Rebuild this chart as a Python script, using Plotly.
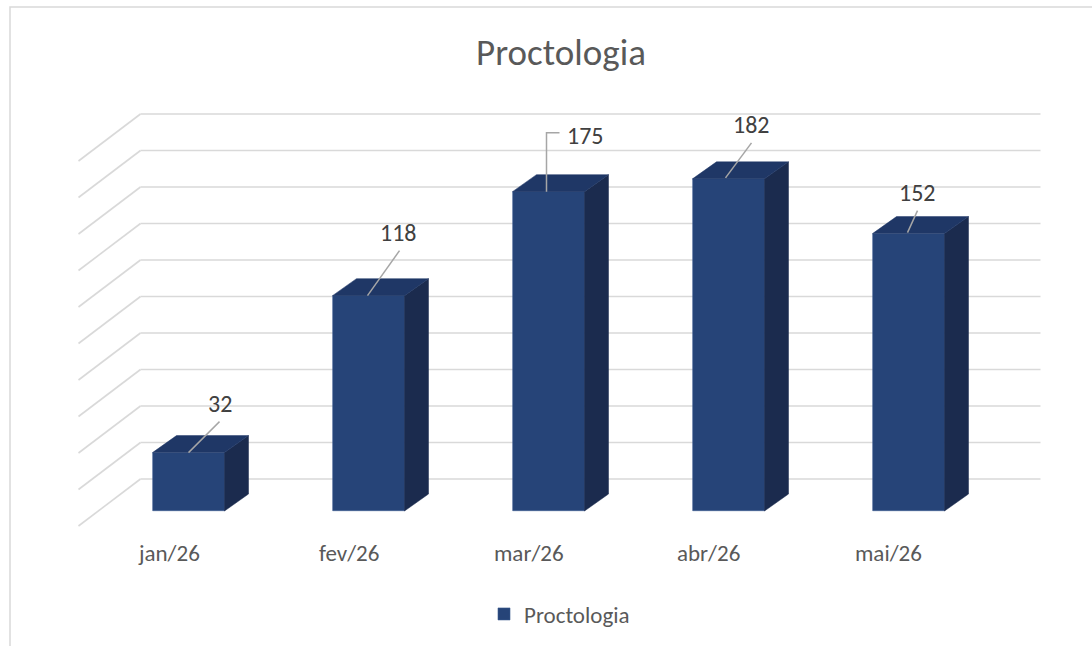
import plotly.graph_objects as go

# ---------------- data ----------------
categories = ["jan/26", "fev/26", "mar/26", "abr/26", "mai/26"]
values = [32, 118, 175, 182, 152]
series_name = "Proctologia"
chart_title = "Proctologia"
grid_ticks = [0, 20, 40, 60, 80, 100, 120, 140, 160, 180, 200]

# ---------------- style / projection ----------------
W, H = 1092, 646
X0_PX = 188.5      # pixel of first category centre
X_STEP = 180.0     # pixels per category
Y0_PX = 511.0      # pixel of value 0 on the bar front plane
Y_SCALE = 1.825    # pixels per value unit

FRONT = "#264478"
TOP = "#1f3766"
SIDE = "#1b2b4e"
GRID = "#d9d9d9"
TEXT = "#595959"
FONT = "Calibri, Carlito, Lato, sans-serif"

BAR_W = 0.4
BAR_DEPTH_PX = (24, 17)     # right, up
WALL_PX = (42, 32)          # back wall offset from bar front plane
FLOOR_FRONT_PX = (-20, -15) # front floor edge offset
# data-label offsets in px (leader start -> bend points -> label centre)
LEADERS_PX = [
    [(0, 0), (31, 31)],
    [(-1, 0), (31, 45)],
    [(-2, 0), (-2, 59), (11, 59)],
    [(-3, 1), (23, 36)],
    [(-1, 1), (9, 23)],
]
LABEL_PX = [(31, 49), (30, 63), (37, 56), (23, 54), (9, 41)]


def dxu(p):
    return p / X_STEP


def dyu(p):
    return p / Y_SCALE


xr = [(0 - X0_PX) / X_STEP, (W - X0_PX) / X_STEP]
yr = [(Y0_PX - H) / Y_SCALE, Y0_PX / Y_SCALE]

n = len(categories)
xs = list(range(n))
wall_left, wall_right = -0.5, n - 0.5

fig = go.Figure()

# side and top faces of the pseudo-3D bars
ddx, ddy = dxu(BAR_DEPTH_PX[0]), dyu(BAR_DEPTH_PX[1])
for x, v in zip(xs, values):
    x0, x1 = x - BAR_W / 2, x + BAR_W / 2
    fig.add_trace(go.Scatter(
        x=[x1, x1, x1 + ddx, x1 + ddx, x1],
        y=[0, v, v + ddy, ddy, 0],
        fill="toself", fillcolor=SIDE, mode="lines",
        line=dict(width=0.5, color=SIDE), showlegend=False, hoverinfo="skip"))
    fig.add_trace(go.Scatter(
        x=[x0, x1, x1 + ddx, x0 + ddx, x0],
        y=[v, v, v + ddy, v + ddy, v],
        fill="toself", fillcolor=TOP, mode="lines",
        line=dict(width=0.5, color=TOP), showlegend=False, hoverinfo="skip"))

# front faces
fig.add_trace(go.Bar(
    x=xs, y=values, width=BAR_W, name=series_name,
    marker=dict(color=FRONT, line=dict(width=0.6, color="#3b5a8f")),
    hoverinfo="skip"))

# leader lines
for x, v, pts in zip(xs, values, LEADERS_PX):
    fig.add_trace(go.Scatter(
        x=[x + dxu(p[0]) for p in pts],
        y=[v + dyu(p[1]) for p in pts],
        mode="lines", line=dict(color="#a6a6a6", width=1.5),
        showlegend=False, hoverinfo="skip"))

# data labels
for x, v, off in zip(xs, values, LABEL_PX):
    fig.add_annotation(x=x + dxu(off[0]), y=v + dyu(off[1]), text=str(v),
                       showarrow=False, xanchor="center", yanchor="middle",
                       font=dict(family=FONT, size=24, color="#404040"))

# category labels (on front floor edge)
for x, c in zip(xs, categories):
    fig.add_annotation(x=x, y=0, text=c, showarrow=False,
                       xshift=FLOOR_FRONT_PX[0], yshift=-42,
                       xanchor="center", yanchor="middle",
                       font=dict(family=FONT, size=23, color=TEXT))

# gridlines on back wall + left wall
wdx, wdy = dxu(WALL_PX[0]), dyu(WALL_PX[1])
fdx, fdy = dxu(FLOOR_FRONT_PX[0]), dyu(FLOOR_FRONT_PX[1])
for t in grid_ticks:
    fig.add_shape(type="line", layer="below", xref="x", yref="y",
                  x0=wall_left + wdx, y0=t + wdy, x1=wall_right + wdx, y1=t + wdy,
                  line=dict(color=GRID, width=1.6))
    fig.add_shape(type="line", layer="below", xref="x", yref="y",
                  x0=wall_left + wdx, y0=t + wdy, x1=wall_left + fdx, y1=t + fdy,
                  line=dict(color=GRID, width=1.6))

# chart border
fig.add_shape(type="rect", xref="paper", yref="paper",
              x0=10 / W, y0=-0.2, x1=1.2, y1=1 - 7 / H,
              line=dict(color="#d9d9d9", width=1.5), layer="below")

fig.update_layout(
    width=W, height=H,
    margin=dict(l=0, r=0, t=0, b=0),
    paper_bgcolor="white", plot_bgcolor="white",
    title=dict(text=chart_title, x=561 / W, y=1 - 52 / H,
               xanchor="center", yanchor="middle",
               font=dict(family=FONT, size=37, color=TEXT)),
    xaxis=dict(range=xr, visible=False, fixedrange=True),
    yaxis=dict(range=yr, visible=False, fixedrange=True),
    showlegend=True,
    legend=dict(orientation="h", x=(504 - 20) / W, y=1 - 614 / H,
                xanchor="left", yanchor="middle",
                font=dict(family=FONT, size=23, color=TEXT),
                bgcolor="rgba(0,0,0,0)"),
    bargap=0,
)

fig.write_html("out.html", config={"displayModeBar": False},
               post_script="document.body.style.margin='0';document.body.style.overflow='hidden';")
